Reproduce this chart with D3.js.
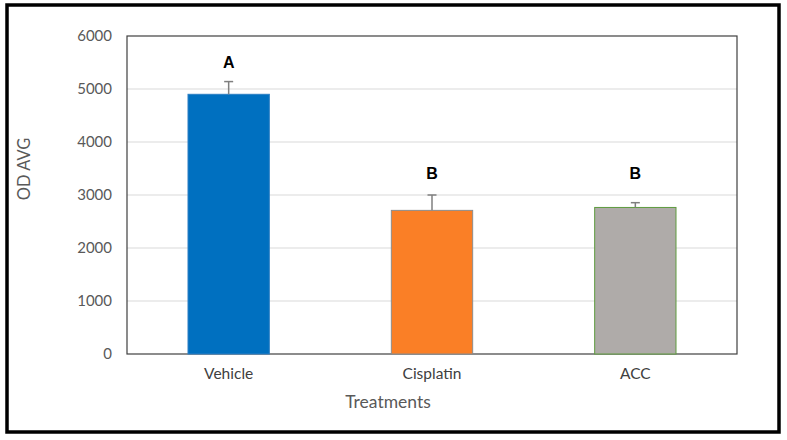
<!DOCTYPE html>
<html>
<head>
<meta charset="utf-8">
<script src="https://cdn.jsdelivr.net/npm/d3@7"></script>
<style>
  html, body { margin: 0; padding: 0; background: #fff; }
  svg { display: block; }
  text { font-family: Lato, "Open Sans", sans-serif; }
</style>
</head>
<body>
<svg id="chart" width="787" height="440"></svg>
<script>
const categories = ["Vehicle", "Cisplatin", "ACC"];
const values = [4900, 2710, 2765];
const errors = [240, 290, 90];
const letters = ["A", "B", "B"];
const letterValues = [5500, 3400, 3400];
const yTicks = [0, 1000, 2000, 3000, 4000, 5000, 6000];
const fills = ["#0070C0", "#FA7F26", "#AFABA9"];
const strokes = ["#2C7FC4", "#8C8C8C", "#5E9B3E"];

const svg = d3.select("#chart");
const plot = { left: 127, top: 36, right: 737, bottom: 354 };

// outer frame
svg.append("rect")
  .attr("x", 7).attr("y", 5)
  .attr("width", 772).attr("height", 427)
  .attr("fill", "none").attr("stroke", "#000").attr("stroke-width", 3.5);

const x = d3.scaleBand().domain(categories)
  .range([plot.left, plot.right]).paddingInner(0.6).paddingOuter(0.3);
const y = d3.scaleLinear().domain([0, 6000]).range([plot.bottom, plot.top]);

// gridlines
svg.append("g").selectAll("line").data(yTicks.filter(d => d > 0 && d < 6000)).join("line")
  .attr("x1", plot.left).attr("x2", plot.right)
  .attr("y1", d => y(d)).attr("y2", d => y(d))
  .attr("stroke", "#D9D9D9").attr("stroke-width", 1);

// plot border
svg.append("rect")
  .attr("x", plot.left).attr("y", plot.top)
  .attr("width", plot.right - plot.left).attr("height", plot.bottom - plot.top)
  .attr("fill", "none").attr("stroke", "#404040").attr("stroke-width", 1.2);

// y axis labels
const yAxis = d3.axisLeft(y).tickValues(yTicks).tickFormat(d3.format("d")).tickSize(0).tickPadding(15);
const gy = svg.append("g").attr("transform", `translate(${plot.left},0)`).call(yAxis);
gy.select(".domain").remove();
gy.selectAll("text").attr("fill", "#595959").style("font-size", "15px")
  .style("font-family", "Lato, 'Open Sans', sans-serif");

// x axis labels
const xAxis = d3.axisBottom(x).tickSize(0).tickPadding(14);
const gx = svg.append("g").attr("transform", `translate(0,${plot.bottom})`).call(xAxis);
gx.select(".domain").remove();
gx.selectAll("text").attr("fill", "#404040").style("font-size", "15.5px")
  .style("font-family", "Lato, 'Open Sans', sans-serif");

// bars
const data = categories.map((c, i) => ({ c, v: values[i], e: errors[i], l: letters[i], lv: letterValues[i], f: fills[i], s: strokes[i] }));
svg.append("g").selectAll("rect").data(data).join("rect")
  .attr("x", d => x(d.c)).attr("width", x.bandwidth())
  .attr("y", d => y(d.v)).attr("height", d => y(0) - y(d.v))
  .attr("fill", d => d.f).attr("stroke", d => d.s).attr("stroke-width", 1);

// error bars
const eb = svg.append("g").selectAll("g").data(data).join("g");
eb.append("line")
  .attr("x1", d => x(d.c) + x.bandwidth() / 2).attr("x2", d => x(d.c) + x.bandwidth() / 2)
  .attr("y1", d => y(d.v)).attr("y2", d => y(d.v + d.e))
  .attr("stroke", "#7F7F7F").attr("stroke-width", 1.5);
eb.append("line")
  .attr("x1", d => x(d.c) + x.bandwidth() / 2 - 4.5).attr("x2", d => x(d.c) + x.bandwidth() / 2 + 4.5)
  .attr("y1", d => y(d.v + d.e)).attr("y2", d => y(d.v + d.e))
  .attr("stroke", "#7F7F7F").attr("stroke-width", 1.5);

// significance letters
svg.append("g").selectAll("text").data(data).join("text")
  .attr("x", d => x(d.c) + x.bandwidth() / 2).attr("y", d => y(d.lv))
  .attr("text-anchor", "middle").attr("dominant-baseline", "central")
  .attr("font-weight", "bold").attr("font-size", "16px").attr("fill", "#000")
  .style("font-family", "'Liberation Sans', Arial, sans-serif")
  .text(d => d.l);

// axis titles
svg.append("text")
  .attr("x", 388).attr("y", 401)
  .attr("text-anchor", "middle").attr("dominant-baseline", "central")
  .attr("font-size", "17.5px").attr("fill", "#595959")
  .text("Treatments");

svg.append("text")
  .attr("transform", "translate(24,169) rotate(-90)")
  .attr("text-anchor", "middle").attr("dominant-baseline", "central")
  .attr("font-size", "16.5px").attr("fill", "#595959")
  .text("OD AVG");
</script>
</body>
</html>
